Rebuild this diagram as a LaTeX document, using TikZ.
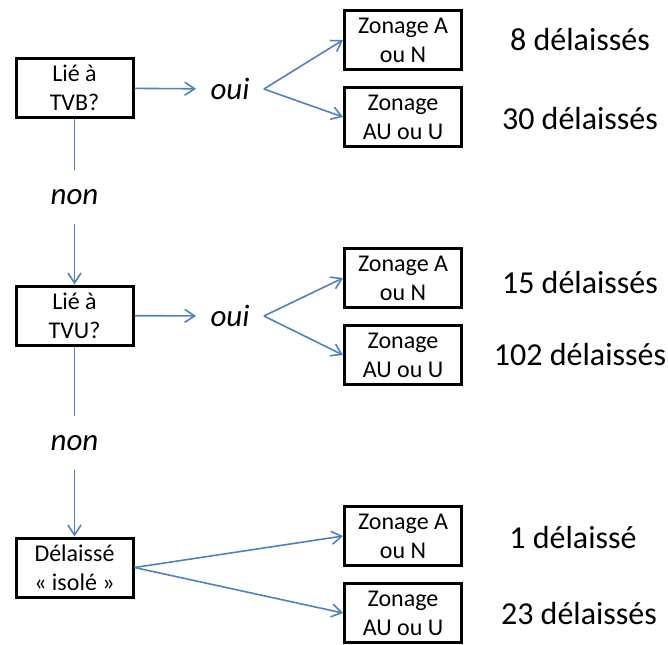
\documentclass[tikz,border=0pt]{standalone}
\usepackage{fontspec}
\setmainfont{Carlito}
\usetikzlibrary{arrows.meta,positioning}
\definecolor{flowblue}{RGB}{79,129,189}

\begin{document}
\begin{tikzpicture}[x=0.5pt,y=-0.5pt,
  >={Straight Barb[length=5pt,width=6.5pt]},
  question/.style={draw,line width=1.5pt,minimum width=58.5pt,
    minimum height=29.5pt,inner sep=0pt,align=center,
    font=\fontsize{12}{14.5}\selectfont},
  answer/.style={font=\fontsize{15.5}{18}\selectfont\itshape,
    inner xsep=7pt,inner ysep=9.5pt},
  tally/.style={font=\fontsize{16}{19}\selectfont},
  flow/.style={draw=flowblue,line width=0.8pt}]
\useasboundingbox (0,0) rectangle (668,644);

\node[question] (tvb) at (74.5,88) {Lié à\\TVB?};
\node[answer] (oui1) at (230,89) {oui};
\node[question] (zan1) at (403,40) {Zonage A\\ou N};
\node[question] (zau1) at (403,117) {Zonage\\AU ou U};
\node[tally] (n1) at (580,40) {8 délaissés};
\node[tally] (n2) at (580,118) {30 délaissés};
\node[answer] (non1) at (74.5,197) {non};

\node[question] (tvu) at (74.5,315.5) {Lié à\\TVU?};
\node[answer] (oui2) at (230,316) {oui};
\node[question] (zan2) at (403,278) {Zonage A\\ou N};
\node[question] (zau2) at (403,355) {Zonage\\AU ou U};
\node[tally] (n3) at (580,282) {15 délaissés};
\node[tally] (n4) at (580,354) {102 délaissés};
\node[answer] (non2) at (74.5,443) {non};

\node[question] (iso) at (74.5,567.5) {Délaissé\\«~isolé~»};
\node[question] (zan3) at (403,536) {Zonage A\\ou N};
\node[question] (zau3) at (403,613) {Zonage\\AU ou U};
\node[tally] (n5) at (573,537) {1 délaissé};
\node[tally] (n6) at (579,613) {23 délaissés};

\draw[flow,->] (tvb) -- (oui1);
\draw[flow,->] (oui1.east) -- (zan1.west);
\draw[flow,->] (oui1.east) -- (zau1.west);
\draw[flow] (tvb) -- (non1);
\draw[flow,->] (non1) -- (tvu);
\draw[flow,->] (tvu) -- (oui2);
\draw[flow,->] (oui2.east) -- (zan2.west);
\draw[flow,->] (oui2.east) -- (zau2.west);
\draw[flow] (tvu) -- (non2);
\draw[flow,->] (non2) -- (iso);
\draw[flow,->] (iso.east) -- (zan3.west);
\draw[flow,->] (iso.east) -- (zau3.west);
\end{tikzpicture}
\end{document}
